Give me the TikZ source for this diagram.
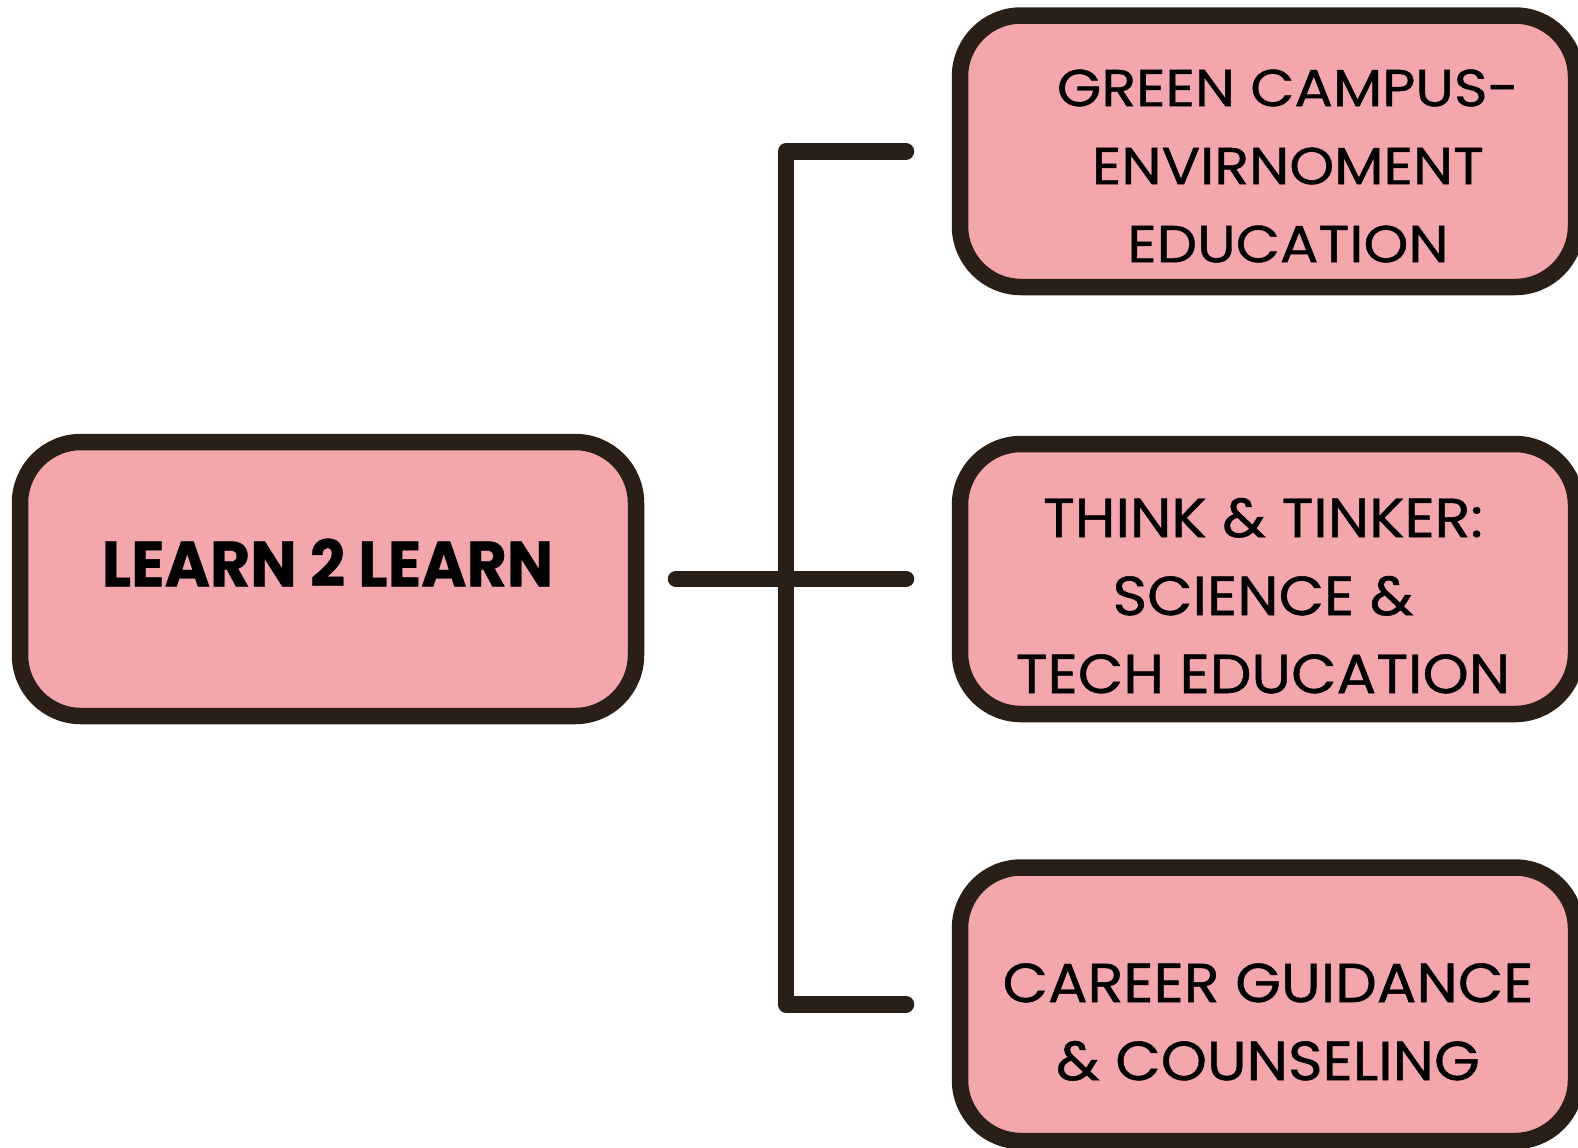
\documentclass[tikz,border=0pt]{standalone}
\usepackage{fontspec}
\setmainfont{Poppins}
\newfontfamily\gfont{Poppins}[FakeStretch=1.1, FakeBold=0.8]
\newfontfamily\tfont{Poppins}[FakeStretch=1.07, FakeBold=0.8]
\newfontfamily\lfont{Poppins}[FakeStretch=0.965, FakeBold=0.6]
\definecolor{boxfill}{HTML}{F4A6AD}
\definecolor{ink}{HTML}{2A1F16}
\begin{document}
\begin{tikzpicture}[x=0.5pt,y=-0.5pt,
  box/.style={draw=ink, fill=boxfill, line width=8.25pt, rounded corners=30.5pt,
    minimum width=308pt, outer sep=0pt, inner sep=0pt},
  conn/.style={draw=ink, line width=8.25pt, line cap=round, line join=round},
  lbl/.style={align=center, inner sep=0pt, text=black},
  small/.style={font=\gfont\fontsize{26}{39}\selectfont},
  big/.style={font=\tfont\fontsize{27.5}{39}\selectfont}]
\useasboundingbox (0,0) rectangle (1578,1147);
% boxes
\node[box, minimum height=137pt] (L) at (328,579) {};
\node[box, minimum height=135.75pt] (G) at (1268,151.25) {};
\node[box, minimum height=135pt] (T) at (1268,579) {};
\node[box, minimum height=136.75pt] (C) at (1268,1004.25) {};
% texts
\node[lbl, font=\lfont\bfseries\fontsize{32}{40}\selectfont] (Lt) at (327.5,562.5) {LEARN 2 LEARN};
\node[lbl, small] (Gt) at (1288,166) {GREEN CAMPUS-\\ENVIRNOMENT\\EDUCATION};
\node[lbl, big] (Tt) at (1263,595.7) {THINK \& TINKER:\\SCIENCE \&\\TECH EDUCATION};
\node[lbl, big] (Ct) at (1268,1022) {CAREER GUIDANCE\\\& COUNSELING};
% connectors
\draw[conn] ([xshift=20pt]L.east) -- ([xshift=-27pt]T.west);
\draw[conn] ([xshift=-27pt]G.west) -- ++(-60pt,0pt) |- ([xshift=-27pt]C.west);
\end{tikzpicture}
\end{document}
